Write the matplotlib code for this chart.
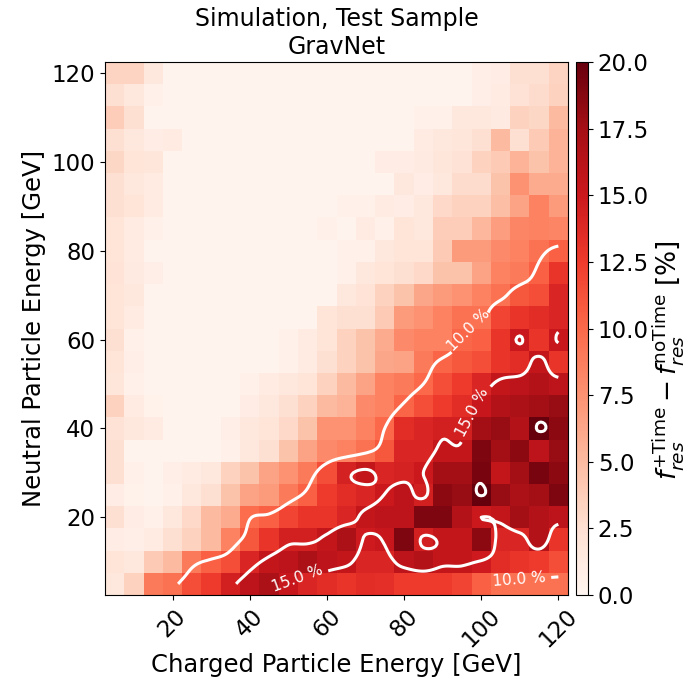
import numpy as np
import matplotlib
matplotlib.use("Agg")
import matplotlib.pyplot as plt

# bin centres [GeV]
charged_energy = [5, 10, 15, 20, 25, 30, 35, 40, 45, 50, 55, 60,
                  65, 70, 75, 80, 85, 90, 95, 100, 105, 110, 115, 120]
neutral_energy = [120, 115, 110, 105, 100, 95, 90, 85, 80, 75, 70, 65,
                  60, 55, 50, 45, 40, 35, 30, 25, 20, 15, 10, 5]

# f_res(+Time) - f_res(noTime) [%], rows top (120 GeV) to bottom (5 GeV)
delta_res = [
    [3.3, 3.3, 1.5] + [0.3] * 16 + [0.8, 1.0, 2.5, 2.5, 3.3],
    [2.5, 1.7, 0.5] + [0.3] * 16 + [0.8, 1.2, 2.3, 2.8, 3.5],
    [3.8, 2.5] + [0.3] * 14 + [0.6, 0.5, 1.5, 1.5, 1.3, 3.5, 3.2, 5.0],
    [2.5, 1.5, 1.0, 1.2] + [0.3] * 12 + [1.2, 1.5, 1.8, 2.5, 5.0, 2.5, 4.0, 5.5],
    [3.2, 2.0, 1.8] + [0.3] * 11 + [1.0, 1.0, 1.3, 1.8, 2.3, 3.5, 4.0, 5.5, 4.5, 5.5],
    [2.5, 1.5, 1.2] + [0.3] * 12 + [1.5, 1.0, 1.5, 2.8, 2.8, 4.5, 7.5, 6.0, 6.0],
    [2.5, 2.0, 1.2] + [0.3] * 9 + [0.6, 0.5, 1.2, 1.0, 1.5, 3.0, 3.5, 3.5, 4.8, 6.5, 8.5, 7.0],
    [2.0, 1.2, 0.6] + [0.3] * 8 + [0.5, 0.3, 1.2, 0.5, 2.0, 1.5, 3.8, 3.8, 5.3, 6.8, 8.3, 8.5, 8.3],
    [2.0, 1.2] + [0.3] * 10 + [0.6, 0.6, 1.5, 2.0, 2.0, 4.0, 7.0, 7.0, 8.0, 8.5, 9.5, 10.5],
    [2.2, 1.3, 0.8] + [0.3] * 9 + [0.5, 1.5, 2.0, 2.5, 3.0, 4.5, 4.5, 6.5, 8.5, 9.0, 10.5, 13.0],
    [2.0, 1.5] + [0.3] * 10 + [1.5, 2.2, 3.5, 4.5, 6.3, 7.0, 7.5, 8.5, 9.5, 11.0, 11.5, 14.0],
    [2.0, 1.2] + [0.3] * 9 + [2.0, 2.5, 2.5, 4.0, 7.0, 7.5, 8.5, 9.5, 9.5, 12.0, 13.0, 13.5, 14.0],
    [2.5, 0.5] + [0.3] * 7 + [0.6, 1.2, 2.0, 3.5, 4.5, 6.0, 8.0, 8.5, 8.5, 10.2, 10.5, 13.0, 15.15, 13.0, 15.2],
    [2.0, 0.8] + [0.3] * 7 + [0.6, 1.2, 2.5, 3.5, 4.5, 6.3, 6.5, 9.0, 10.3, 11.0, 11.5, 13.0, 13.5, 15.6, 13.0],
    [1.8, 0.6] + [0.3] * 5 + [0.5, 1.2, 1.5, 2.0, 3.5, 5.0, 6.5, 8.5, 9.0, 10.0, 11.5, 12.5, 14.0, 15.5, 16.0, 16.5, 16.0],
    [3.5, 1.2, 0.4] + [0.3] * 4 + [1.0, 1.5, 2.5, 3.5, 5.0, 5.5, 8.0, 8.5, 10.3, 11.5, 12.5, 13.5, 15.3, 16.5, 17.0, 17.5, 18.0],
    [2.3, 1.5, 1.2] + [0.3] * 3 + [0.8, 1.5, 2.0, 3.0, 4.5, 7.5, 7.5, 8.5, 10.0, 13.5, 14.0, 14.5, 14.5, 17.5, 18.0, 16.5, 20.3, 18.5],
    [2.5, 0.3, 0.3, 0.3, 0.3, 0.3, 0.5, 1.5, 2.5, 4.5, 6.5, 8.0, 8.5, 9.5, 11.0, 14.0, 14.0, 15.5, 15.5, 19.0, 17.5, 18.5, 16.0, 18.0],
    [2.5, 0.5, 0.3, 0.8, 1.2, 1.5, 3.5, 4.5, 6.5, 7.5, 9.0, 11.5, 14.3, 15.6, 14.0, 14.3, 15.0, 17.5, 17.5, 19.3, 15.5, 17.5, 19.3, 18.5],
    [1.0, 0.4, 0.3, 0.5, 1.5, 2.5, 4.5, 6.5, 7.0, 9.0, 10.5, 12.5, 13.5, 14.0, 15.05, 16.0, 14.5, 18.5, 18.0, 20.1, 18.0, 17.0, 17.5, 19.0],
    [2.5, 1.0, 0.5, 1.5, 3.0, 5.0, 6.0, 9.8, 10.5, 12.0, 13.0, 13.0, 14.0, 15.5, 16.0, 16.0, 19.0, 19.0, 16.5, 15.0, 15.5, 17.5, 16.5, 16.0],
    [1.0, 0.8, 1.2, 2.5, 3.5, 5.0, 8.5, 11.0, 13.0, 14.5, 14.5, 15.5, 17.0, 14.8, 15.3, 19.0, 14.5, 15.5, 15.5, 18.5, 14.0, 14.0, 16.5, 13.0],
    [2.0, 1.5, 4.0, 5.0, 9.0, 10.5, 11.5, 14.0, 15.5, 16.0, 17.0, 16.0, 15.5, 14.0, 14.0, 16.0, 16.5, 15.5, 15.5, 14.8, 13.5, 13.0, 12.5, 11.5],
    [1.5, 3.5, 9.0, 9.5, 11.5, 12.5, 14.5, 16.0, 17.0, 15.3, 14.0, 13.5, 13.0, 13.5, 13.3, 12.5, 12.5, 12.5, 12.0, 10.5, 9.5, 9.5, 9.5, 9.5],
]

contour_levels = [10, 15, 20]


def cubic_weights(n, factor):
    """Keys cubic convolution weights mapping n samples onto a finer grid."""
    t = np.linspace(0, n - 1, (n - 1) * factor + 1)
    i0 = np.clip(np.floor(t).astype(int), 0, n - 2)
    s = t - i0
    W = np.zeros((len(t), n))
    a = -0.5
    for off in (-1, 0, 1, 2):
        d = np.abs(s - off)
        w = np.where(d <= 1, (a + 2) * d**3 - (a + 3) * d**2 + 1,
                     np.where(d < 2, a * d**3 - 5 * a * d**2 + 8 * a * d - 4 * a, 0.0))
        idx = np.clip(i0 + off, 0, n - 1)
        np.add.at(W, (np.arange(len(t)), idx), w)
    return W


x = np.array(charged_energy, dtype=float)
y = np.array(neutral_energy, dtype=float)[::-1]
z = np.array(delta_res, dtype=float)[::-1]

fig = plt.figure(figsize=(6.92, 6.79), dpi=100)
ax = fig.add_axes([105 / 692, 1 - 595 / 679, 463 / 692, 533 / 679])
cax = fig.add_axes([576 / 692, 1 - 595 / 679, 12 / 692, 533 / 679])

mesh = ax.pcolormesh(x, y, z, cmap="Reds", vmin=0, vmax=20, shading="nearest")

# smooth contours drawn on a finer grid
f = 10
Wx = cubic_weights(len(x), f)
Wy = cubic_weights(len(y), f)
zf = Wy @ z @ Wx.T
xf = np.linspace(x[0], x[-1], Wx.shape[0])
yf = np.linspace(y[0], y[-1], Wy.shape[0])
cs = ax.contour(xf, yf, zf, levels=contour_levels, colors="white", linewidths=2.2)
ax.clabel(cs, levels=[10, 15], fmt="%.1f %%", fontsize=11, inline=True,
          manual=[(98, 64), (52, 7), (97, 44), (110, 5)])

ax.set_xlim(2.5, 122.5)
ax.set_ylim(2.5, 122.5)
ax.set_xticks([20, 40, 60, 80, 100, 120])
ax.set_yticks([20, 40, 60, 80, 100, 120])
ax.tick_params(labelsize=16.5)
plt.setp(ax.get_xticklabels(), rotation=45)
ax.set_xlabel("Charged Particle Energy [GeV]", fontsize=17.5, labelpad=1)
ax.set_ylabel("Neutral Particle Energy [GeV]", fontsize=17.5)
ax.set_title("Simulation, Test Sample\nGravNet", fontsize=17)

cb = fig.colorbar(mesh, cax=cax)
cb.set_ticks([0, 2.5, 5, 7.5, 10, 12.5, 15, 17.5, 20])
cb.ax.set_yticklabels(["0.0", "2.5", "5.0", "7.5", "10.0", "12.5", "15.0", "17.5", "20.0"])
cb.ax.tick_params(labelsize=16.5)
cb.set_label(r"$f_{res}^{+\mathrm{Time}} - f_{res}^{\mathrm{noTime}}$ [%]",
             fontsize=19, labelpad=1)
cb.ax.yaxis.label.set_y(0.44)

fig.savefig("out.png", dpi=100)
